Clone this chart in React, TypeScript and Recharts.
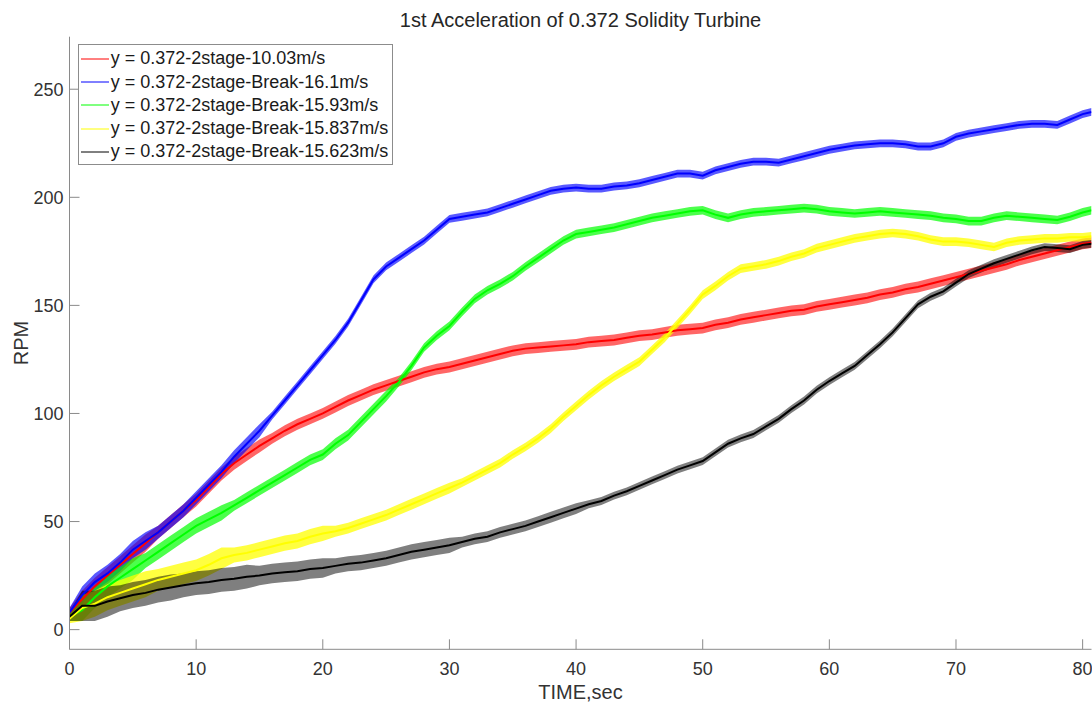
import { ComposedChart, Line, Area, XAxis, YAxis, Legend } from "recharts";

// time axis (s) and RPM, one point per second
const time = [
  0, 1, 2, 3, 4, 5, 6, 7, 8, 9,
  10, 11, 12, 13, 14, 15, 16, 17, 18, 19,
  20, 21, 22, 23, 24, 25, 26, 27, 28, 29,
  30, 31, 32, 33, 34, 35, 36, 37, 38, 39,
  40, 41, 42, 43, 44, 45, 46, 47, 48, 49,
  50, 51, 52, 53, 54, 55, 56, 57, 58, 59,
  60, 61, 62, 63, 64, 65, 66, 67, 68, 69,
  70, 71, 72, 73, 74, 75, 76, 77, 78, 79,
  80, 80.7,
];

const rpm1003 = [
  8, 14, 20, 25, 30, 35, 40, 45, 50, 55,
  60, 66, 72, 77, 81, 85, 88.5, 92, 95, 97.5,
  100, 103, 106, 108.5, 111, 113, 115, 117, 119, 120.5,
  121.5, 123, 124.5, 126, 127.5, 129, 130, 130.5, 131, 131.5,
  132, 133, 133.5, 134, 135, 136, 136.5, 137.5, 138.5, 139,
  139.5, 141, 142, 143.5, 144.5, 145.5, 146.5, 147.5, 148, 149.5,
  150.5, 151.5, 152.5, 153.5, 155, 156, 157.5, 158.5, 160, 161.5,
  163, 164.5, 166, 167.5, 169, 171, 172.5, 174, 175.5, 177,
  178.5, 179,
];

const rpm161 = [
  8, 16, 22, 26, 31, 37, 41, 45, 50, 55,
  61, 67, 73, 80, 86, 92, 99, 106, 113, 120,
  127, 134, 142, 152, 162, 168, 172, 176, 180, 185,
  190, 191, 192, 193, 195, 197, 199, 201, 203, 204,
  204.5, 204, 204, 205, 205.5, 206.5, 208, 209.5, 211, 211,
  210, 212.5, 214, 215.5, 216.5, 216.5, 216, 217.5, 219, 220.5,
  222, 223, 224, 224.5, 225, 225, 224.5, 223.5, 223.5, 225,
  228, 229.5, 230.5, 231.5, 232.5, 233.5, 234, 234, 233.5, 236,
  238.5, 239.5,
];

const rpm1593 = [
  6, 9, 15, 20, 24, 28, 32, 36, 40, 44,
  48, 51, 54, 57.5, 61, 64.5, 68, 71.5, 75, 78.5,
  81, 86, 90, 96, 102, 108, 114.5, 122, 130.5, 136,
  140.5, 147, 153, 157, 160, 163.5, 168, 172, 176, 180,
  183, 184, 185, 186, 187.5, 189, 190.5, 191.5, 192.5, 193.5,
  194, 192, 190.5, 192, 193, 193.5, 194, 194.5, 195, 194.5,
  193.5, 193, 192.5, 193, 193.5, 193, 192.5, 192, 191.5, 190.5,
  190, 189, 189, 190.5, 191.5, 191, 190.5, 190, 189.5, 191,
  193, 194,
];

const rpm15837 = [
  5, 10, 12, 15, 17, 19, 21, 23, 24.5, 26,
  27.5, 30, 33, 34.5, 35.5, 37, 38.5, 40, 41, 43,
  44.5, 45.5, 47, 49, 51, 53, 55.5, 58, 60.5, 63,
  65.5, 68, 71, 74, 77, 81, 84.5, 88.5, 93, 98.5,
  103.5, 108.5, 113, 117, 120.5, 124, 129.5, 135, 141.5, 148,
  155, 159, 163.5, 167, 168, 169, 170.5, 172.5, 174, 176.5,
  178, 179.5, 181, 182, 183, 183.5, 183, 182, 180.5, 179.5,
  179.5, 179, 178, 177, 179, 180, 180.5, 181, 181, 181.5,
  181.5, 182,
];

const rpm15623 = [
  6, 11, 11, 13, 14.5, 16, 17, 18.5, 19.5, 20.5,
  21.5, 22, 23, 23.5, 24.5, 25, 26, 26.5, 27, 28,
  28.5, 29.5, 30.5, 31, 32, 33, 34.5, 36, 37, 38,
  39, 40.5, 42, 43, 45, 46.5, 48, 50, 52, 54,
  56, 58, 59.5, 62, 64, 66.5, 69, 71.5, 74, 76,
  78, 82, 86, 88.5, 90.5, 94, 97.5, 102, 106, 111,
  115, 118.5, 122, 127, 132, 137.5, 144, 150.5, 154, 156.5,
  160.5, 164.5, 167, 169.5, 171.5, 173.5, 175.5, 177, 176.5, 176,
  178, 178.5,
];

// half-height of the ripple band around each curve (RPM)
const ripple1003 = [
  2, 4, 4, 4, 4, 4, 4, 3, 3, 3,
  3, 3, 3, 3, 3, 3, 2.5, 2.5, 2.5, 2.5,
  2.5, 2.5, 2.5, 2.5, 2.5, 2.5, 2.5, 2.5, 2.5, 2.5,
  2.5, 2.5, 2.5, 2.5, 2.5, 2.5, 2.5, 2.5, 2.5, 2.5,
  2.5, 2.5, 2.5, 2.5, 2.5, 2.5, 2.5, 2.5, 2.5, 2.5,
  2.5, 2.5, 2.5, 2.5, 2.5, 2.5, 2.5, 2.5, 2.5, 2.5,
  2.5, 2.5, 2.5, 2.5, 2.5, 2.5, 2.5, 2.5, 2.5, 2.5,
  2.5, 2.5, 2.5, 2.5, 2.5, 2.5, 2.5, 2.5, 2.5, 2.5,
  2.5, 2.5,
];

const ripple161 = [
  2, 4, 4, 4, 4, 4, 4, 3, 3, 3,
  3, 3, 3, 3, 3, 3, 1.8, 1.8, 1.8, 1.8,
  1.8, 1.8, 1.8, 1.8, 1.8, 1.8, 1.8, 1.8, 1.8, 1.8,
  1.8, 1.8, 1.8, 1.8, 1.8, 1.8, 1.8, 1.8, 1.8, 1.8,
  1.8, 1.8, 1.8, 1.8, 1.8, 1.8, 1.8, 1.8, 1.8, 1.8,
  1.8, 1.8, 1.8, 1.8, 1.8, 1.8, 1.8, 1.8, 1.8, 1.8,
  1.8, 1.8, 1.8, 1.8, 1.8, 1.8, 1.8, 1.8, 1.8, 1.8,
  1.8, 1.8, 1.8, 1.8, 1.8, 1.8, 1.8, 1.8, 1.8, 1.8,
  1.8, 1.8,
];

const ripple1593 = [
  2, 5, 5, 5, 5, 5, 3.5, 3.5, 3.5, 3.5,
  3.5, 3.5, 3.5, 2.5, 2.5, 2.5, 2.5, 2.5, 2.5, 2.5,
  2.5, 2.5, 2.5, 2.5, 2.5, 2.5, 2, 2, 2, 2,
  2, 2, 2, 2, 2, 2, 2, 2, 2, 2,
  2, 2, 2, 2, 2, 2, 2, 2, 2, 2,
  2, 2, 2, 2, 2, 2, 2, 2, 2, 2,
  2, 2, 2, 2, 2, 2, 2, 2, 2, 2,
  2, 2, 2, 2, 2, 2, 2, 2, 2, 2,
  2, 2,
];

const ripple15837 = [
  2, 6, 6, 6, 6, 6, 6, 5, 5, 5,
  5, 5, 5, 3.5, 3.5, 3.5, 3.5, 3.5, 3.5, 3.5,
  3.5, 2.5, 2.5, 2.5, 2.5, 2.5, 2.5, 2.5, 2.5, 2.5,
  2.5, 2, 2, 2, 2, 2, 2, 2, 2, 2,
  2, 2, 2, 2, 2, 2, 2, 2, 2, 2,
  2, 2, 2, 2, 2, 2, 2, 2, 2, 2,
  2, 2, 2, 2, 2, 2, 2, 2, 2, 2,
  2, 2, 2, 2, 2, 2, 2, 2, 2, 2,
  2, 2,
];

const ripple15623 = [
  2, 7, 7, 7, 6, 6, 6, 6, 6, 5.5,
  5.5, 5.5, 5.5, 5.5, 5.5, 4.5, 4.5, 4.5, 4.5, 4.5,
  4.5, 3.5, 3.5, 3.5, 3.5, 3.5, 3.5, 3.5, 3.5, 3.5,
  3.5, 2.5, 2.5, 2.5, 2.5, 2.5, 2.5, 2.5, 2.5, 2.5,
  2.5, 1.8, 1.8, 1.8, 1.8, 1.8, 1.8, 1.8, 1.8, 1.8,
  1.8, 1.8, 1.8, 1.8, 1.8, 1.8, 1.8, 1.8, 1.8, 1.8,
  1.8, 1.8, 1.8, 1.8, 1.8, 1.8, 1.8, 1.8, 1.8, 1.8,
  1.8, 1.8, 1.8, 1.8, 1.8, 1.8, 1.8, 1.8, 1.8, 1.8,
  1.8, 1.8,
];

const xTicks = [0, 10, 20, 30, 40, 50, 60, 70, 80];
const yTicks = [0, 50, 100, 150, 200, 250];

const SERIES = [
  { key: "r1003", name: "y = 0.372-2stage-10.03m/s", color: "#ff0000", values: rpm1003, ripple: ripple1003, band: 0.6 },
  { key: "r161", name: "y = 0.372-2stage-Break-16.1m/s", color: "#0000ff", values: rpm161, ripple: ripple161, band: 0.65 },
  { key: "r1593", name: "y = 0.372-2stage-Break-15.93m/s", color: "#00ff00", values: rpm1593, ripple: ripple1593, band: 0.7 },
  { key: "r15837", name: "y = 0.372-2stage-Break-15.837m/s", color: "#ffff00", values: rpm15837, ripple: ripple15837, band: 0.75 },
  { key: "r15623", name: "y = 0.372-2stage-Break-15.623m/s", color: "#000000", values: rpm15623, ripple: ripple15623, band: 0.5 },
];

const data = time.map((t, i) => {
  const row: Record<string, any> = { t };
  SERIES.forEach((s) => {
    row[s.key] = s.values[i];
    row[s.key + "Band"] = [s.values[i] - s.ripple[i], s.values[i] + s.ripple[i]];
  });
  return row;
});

const FONT = "'Liberation Sans', Arial, Helvetica, sans-serif";
const AXIS = "#8a8a8a";
const TEXT = "#333333";

const BottomTick = ({ x, y, payload }: any) => (
  <g>
    <line x1={x} y1={y} x2={x} y2={y - 10} stroke={AXIS} />
    <text x={x} y={y + 25.5} textAnchor="middle" fill={TEXT} fontSize={18} fontFamily={FONT}>
      {payload.value}
    </text>
  </g>
);

const TopTick = ({ x, y }: any) => <line x1={x} y1={y} x2={x} y2={y + 10} stroke={AXIS} />;

const LeftTick = ({ x, y, payload }: any) => (
  <g>
    <line x1={x} y1={y} x2={x + 10} y2={y} stroke={AXIS} />
    <text x={x - 6} y={y + 6.5} textAnchor="end" fill={TEXT} fontSize={18} fontFamily={FONT}>
      {payload.value}
    </text>
  </g>
);

const RightTick = ({ x, y }: any) => <line x1={x} y1={y} x2={x - 10} y2={y} stroke={AXIS} />;

const RpmLabel = ({ viewBox }: any) => {
  const cx = viewBox.x + 11.5;
  const cy = viewBox.y + viewBox.height / 2;
  return (
    <text
      x={cx}
      y={cy}
      transform={`rotate(-90 ${cx} ${cy})`}
      textAnchor="middle"
      dominantBaseline="central"
      fill={TEXT}
      fontSize={20}
      fontFamily={FONT}
    >
      RPM
    </text>
  );
};

const LegendBox = () => (
  <div
    style={{
      border: "1px solid #8c8c8c",
      background: "#fff",
      padding: "2px 4px 0 1px",
      fontFamily: FONT,
      fontSize: 18,
      color: "#1a1a1a",
    }}
  >
    {SERIES.map((s) => (
      <div key={s.key} style={{ display: "flex", alignItems: "center", height: 23.25, whiteSpace: "nowrap" }}>
        <svg width={31} height={10} style={{ flex: "none" }}>
          <line x1={1} y1={5} x2={29} y2={5} stroke={s.color} strokeWidth={1} />
        </svg>
        <span>{s.name}</span>
      </div>
    ))}
  </div>
);

export default function App() {
  return (
    <div style={{ position: "absolute", left: 0, top: 0, width: 1092, height: 703, background: "#fff" }}>
      <div
        style={{
          position: "absolute",
          left: 69.5,
          width: 1022,
          top: 7.7,
          textAlign: "center",
          fontSize: 20,
          lineHeight: "24px",
          fontFamily: FONT,
          color: "#262626",
        }}
      >
        1st Acceleration of 0.372 Solidity Turbine
      </div>
      <ComposedChart width={1092} height={703} data={data} margin={{ top: 36.7, right: 0.5, bottom: 0, left: 9.5 }}>
        <XAxis
          dataKey="t"
          type="number"
          domain={[0, 80.7]}
          ticks={xTicks}
          allowDataOverflow
          height={53.7}
          tickSize={0}
          tickMargin={0}
          tick={<BottomTick />}
          axisLine={{ stroke: AXIS }}
          label={{ value: "TIME,sec", position: "insideBottom", offset: 4, fill: TEXT, fontSize: 20, fontFamily: FONT }}
        />
        <XAxis
          xAxisId="top"
          orientation="top"
          dataKey="t"
          type="number"
          domain={[0, 80.7]}
          ticks={xTicks}
          allowDataOverflow
          height={0}
          tickSize={0}
          tickMargin={0}
          tick={<TopTick />}
          axisLine={{ stroke: AXIS }}
        />
        <YAxis
          type="number"
          domain={[-9.1, 274.3]}
          ticks={yTicks}
          allowDataOverflow
          width={60}
          tickSize={0}
          tickMargin={0}
          tick={<LeftTick />}
          axisLine={{ stroke: AXIS }}
          label={{ content: <RpmLabel /> }}
        />
        <YAxis
          yAxisId="right"
          orientation="right"
          type="number"
          domain={[-9.1, 274.3]}
          ticks={yTicks}
          allowDataOverflow
          width={0}
          tickSize={0}
          tickMargin={0}
          tick={<RightTick />}
          axisLine={{ stroke: AXIS }}
        />
        {SERIES.map((s) => (
          <Area
            key={s.key + "Band"}
            dataKey={s.key + "Band"}
            type="linear"
            stroke="none"
            fill={s.color}
            fillOpacity={s.band}
            isAnimationActive={false}
            activeDot={false}
            legendType="none"
          />
        ))}
        {SERIES.map((s) => (
          <Line
            key={s.key}
            dataKey={s.key}
            name={s.name}
            type="linear"
            stroke={s.color}
            strokeWidth={2}
            dot={false}
            activeDot={false}
            isAnimationActive={false}
          />
        ))}
        <Legend
          layout="horizontal"
          verticalAlign="middle"
          align="center"
          content={<LegendBox />}
          wrapperStyle={{ left: 77.7, top: 44.3, width: "auto", height: "auto" }}
        />
      </ComposedChart>
    </div>
  );
}
